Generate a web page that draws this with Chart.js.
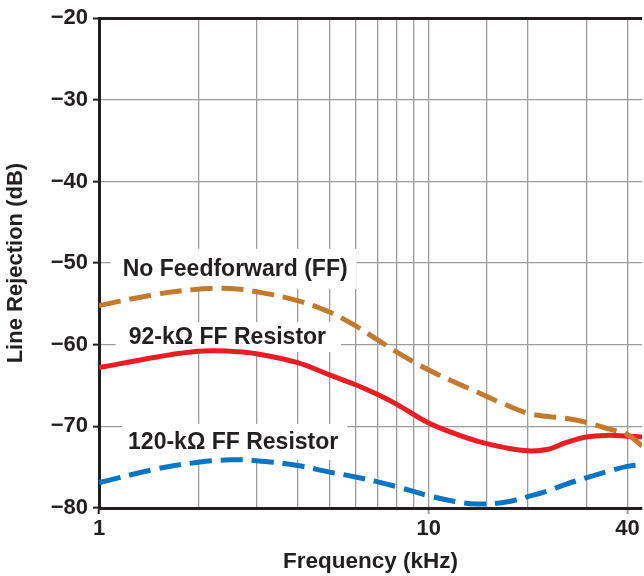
<!DOCTYPE html>
<html>
<head>
<meta charset="utf-8">
<script src="https://cdn.jsdelivr.net/npm/chart.js@4"></script>
<style>
  html, body { margin: 0; padding: 0; background: #fff; }
  canvas { display: block; }
</style>
</head>
<body>
<canvas id="chart" width="644" height="576"></canvas>
<script>
// Frequency points (kHz)
const freqs = [1, 1.5, 2, 2.5, 3, 4, 5, 6, 7, 8, 10, 12, 14, 17, 20, 23, 26, 30, 35, 40, 44.3];

// Line rejection (dB) for each curve
const noFF = [-55.2, -53.8, -53.2, -53.1, -53.5, -54.6, -56.0, -57.7, -59.4, -60.9, -63.1,
  -64.6, -65.8, -67.3, -68.4, -68.8, -69.0, -69.5, -70.3, -71.0, -72.4];
const ff92k = [-62.8, -61.5, -60.8, -60.8, -61.1, -62.2, -63.7, -64.9, -66.1, -67.3, -69.6,
  -70.9, -71.8, -72.6, -73.0, -72.8, -72.0, -71.3, -71.1, -71.2, -71.3];
const ff120k = [-76.9, -75.2, -74.4, -74.1, -74.2, -74.8, -75.6, -76.2, -76.8, -77.4, -78.5,
  -79.2, -79.5, -79.3, -78.6, -77.9, -77.1, -76.3, -75.5, -74.9, -74.7];

const xLabelTicks = [1, 10, 40];
const yTicks = [-80, -70, -60, -50, -40, -30, -20];

const FONT = "'Liberation Sans', Arial, Helvetica, sans-serif";
const INK = "#231f20";
const GRID = "#9d9d9d";
const X_MAX = 44.3;

const toPoints = (ys) => freqs.map((f, i) => ({ x: f, y: ys[i] }));

// curve captions with white boxes behind them (data coords: left x, centre y)
const captions = [
  { text: "No Feedforward (FF)", x: 1.18, y: -50.7, padL: 12, padR: 9, padY: 20 },
  { text: "92-k\u03A9 FF Resistor", x: 1.23, y: -59.05, padL: 13, padR: 15, padY: 15 },
  { text: "120-k\u03A9 FF Resistor", x: 1.225, y: -71.9, padL: 6, padR: 9, padY: 18 }
];

const captionPlugin = {
  id: "captions",
  beforeDatasetsDraw(chart) {
    const { ctx, scales } = chart;
    ctx.save();
    ctx.font = "bold 23px " + FONT;
    ctx.textBaseline = "middle";
    captions.forEach((c) => {
      const px = scales.x.getPixelForValue(c.x);
      const py = scales.y.getPixelForValue(c.y);
      const w = ctx.measureText(c.text).width;
      ctx.fillStyle = "#ffffff";
      ctx.fillRect(px - c.padL, py - c.padY, w + c.padL + c.padR, c.padY * 2);
      ctx.fillStyle = INK;
      ctx.fillText(c.text, px, py + 1);
    });
    ctx.restore();
  }
};

const ctx = document.getElementById("chart").getContext("2d");

new Chart(ctx, {
  type: "line",
  data: {
    datasets: [
      {
        label: "No Feedforward (FF)",
        data: toPoints(noFF),
        borderColor: "#c47a2c",
        borderWidth: 5,
        borderDash: [22, 9],
        pointRadius: 0,
        tension: 0.4,
        fill: false
      },
      {
        label: "92-k\u03A9 FF Resistor",
        data: toPoints(ff92k),
        borderColor: "#ec1c24",
        borderWidth: 5,
        pointRadius: 0,
        tension: 0.4,
        fill: false
      },
      {
        label: "120-k\u03A9 FF Resistor",
        data: toPoints(ff120k),
        borderColor: "#0a75c2",
        borderWidth: 5,
        borderDash: [22, 9],
        pointRadius: 0,
        tension: 0.4,
        fill: false
      }
    ]
  },
  options: {
    responsive: false,
    animation: false,
    devicePixelRatio: 1,
    layout: { padding: { top: 17, right: 0, bottom: 0, left: 0 } },
    plugins: {
      legend: { display: false },
      tooltip: { enabled: false }
    },
    scales: {
      x: {
        type: "logarithmic",
        min: 1,
        max: X_MAX,
        afterFit: (s) => { s.height = 68; },
        border: { display: true, color: INK, width: 3 },
        grid: {
          color: (c) => {
            const v = c.tick && c.tick.value;
            if (v === X_MAX || v === 1) return "rgba(0,0,0,0)";
            return GRID;
          },
          lineWidth: 1.3,
          tickLength: 6,
          tickWidth: 2,
          tickColor: (c) => {
            const v = c.tick && c.tick.value;
            if (v === 1) return INK;
            if (v === 10 || v === 40) return GRID;
            return "rgba(0,0,0,0)";
          }
        },
        ticks: {
          autoSkip: false,
          maxRotation: 0,
          minRotation: 0,
          padding: 2,
          color: INK,
          font: { family: FONT, size: 22, weight: "bold" },
          callback: (v) => (xLabelTicks.includes(v) ? String(v) : "")
        },
        title: {
          display: true,
          text: "Frequency (kHz)",
          color: INK,
          font: { family: FONT, size: 22.5, weight: "bold" },
          padding: { top: 0, bottom: 1 }
        }
      },
      y: {
        min: -80,
        max: -20,
        afterFit: (s) => { s.width = 99; },
        afterBuildTicks: (s) => { s.ticks = yTicks.map((v) => ({ value: v })); },
        border: { display: true, color: INK, width: 3 },
        grid: {
          color: (c) => {
            const v = c.tick && c.tick.value;
            if (v === -20) return INK;
            if (v === -80) return "rgba(0,0,0,0)";
            return GRID;
          },
          lineWidth: (c) => (c.tick && c.tick.value === -20 ? 3 : 1.3),
          tickLength: 6,
          tickWidth: 2,
          tickColor: INK
        },
        ticks: {
          padding: 5,
          color: INK,
          font: { family: FONT, size: 22, weight: "bold" },
          callback: (v) => String(v).replace("-", "\u2212")
        },
        title: {
          display: true,
          text: "Line Rejection (dB)",
          color: INK,
          font: { family: FONT, size: 22, weight: "bold" },
          padding: { top: 3, bottom: 0 }
        }
      }
    }
  },
  plugins: [captionPlugin]
});
</script>
</body>
</html>
